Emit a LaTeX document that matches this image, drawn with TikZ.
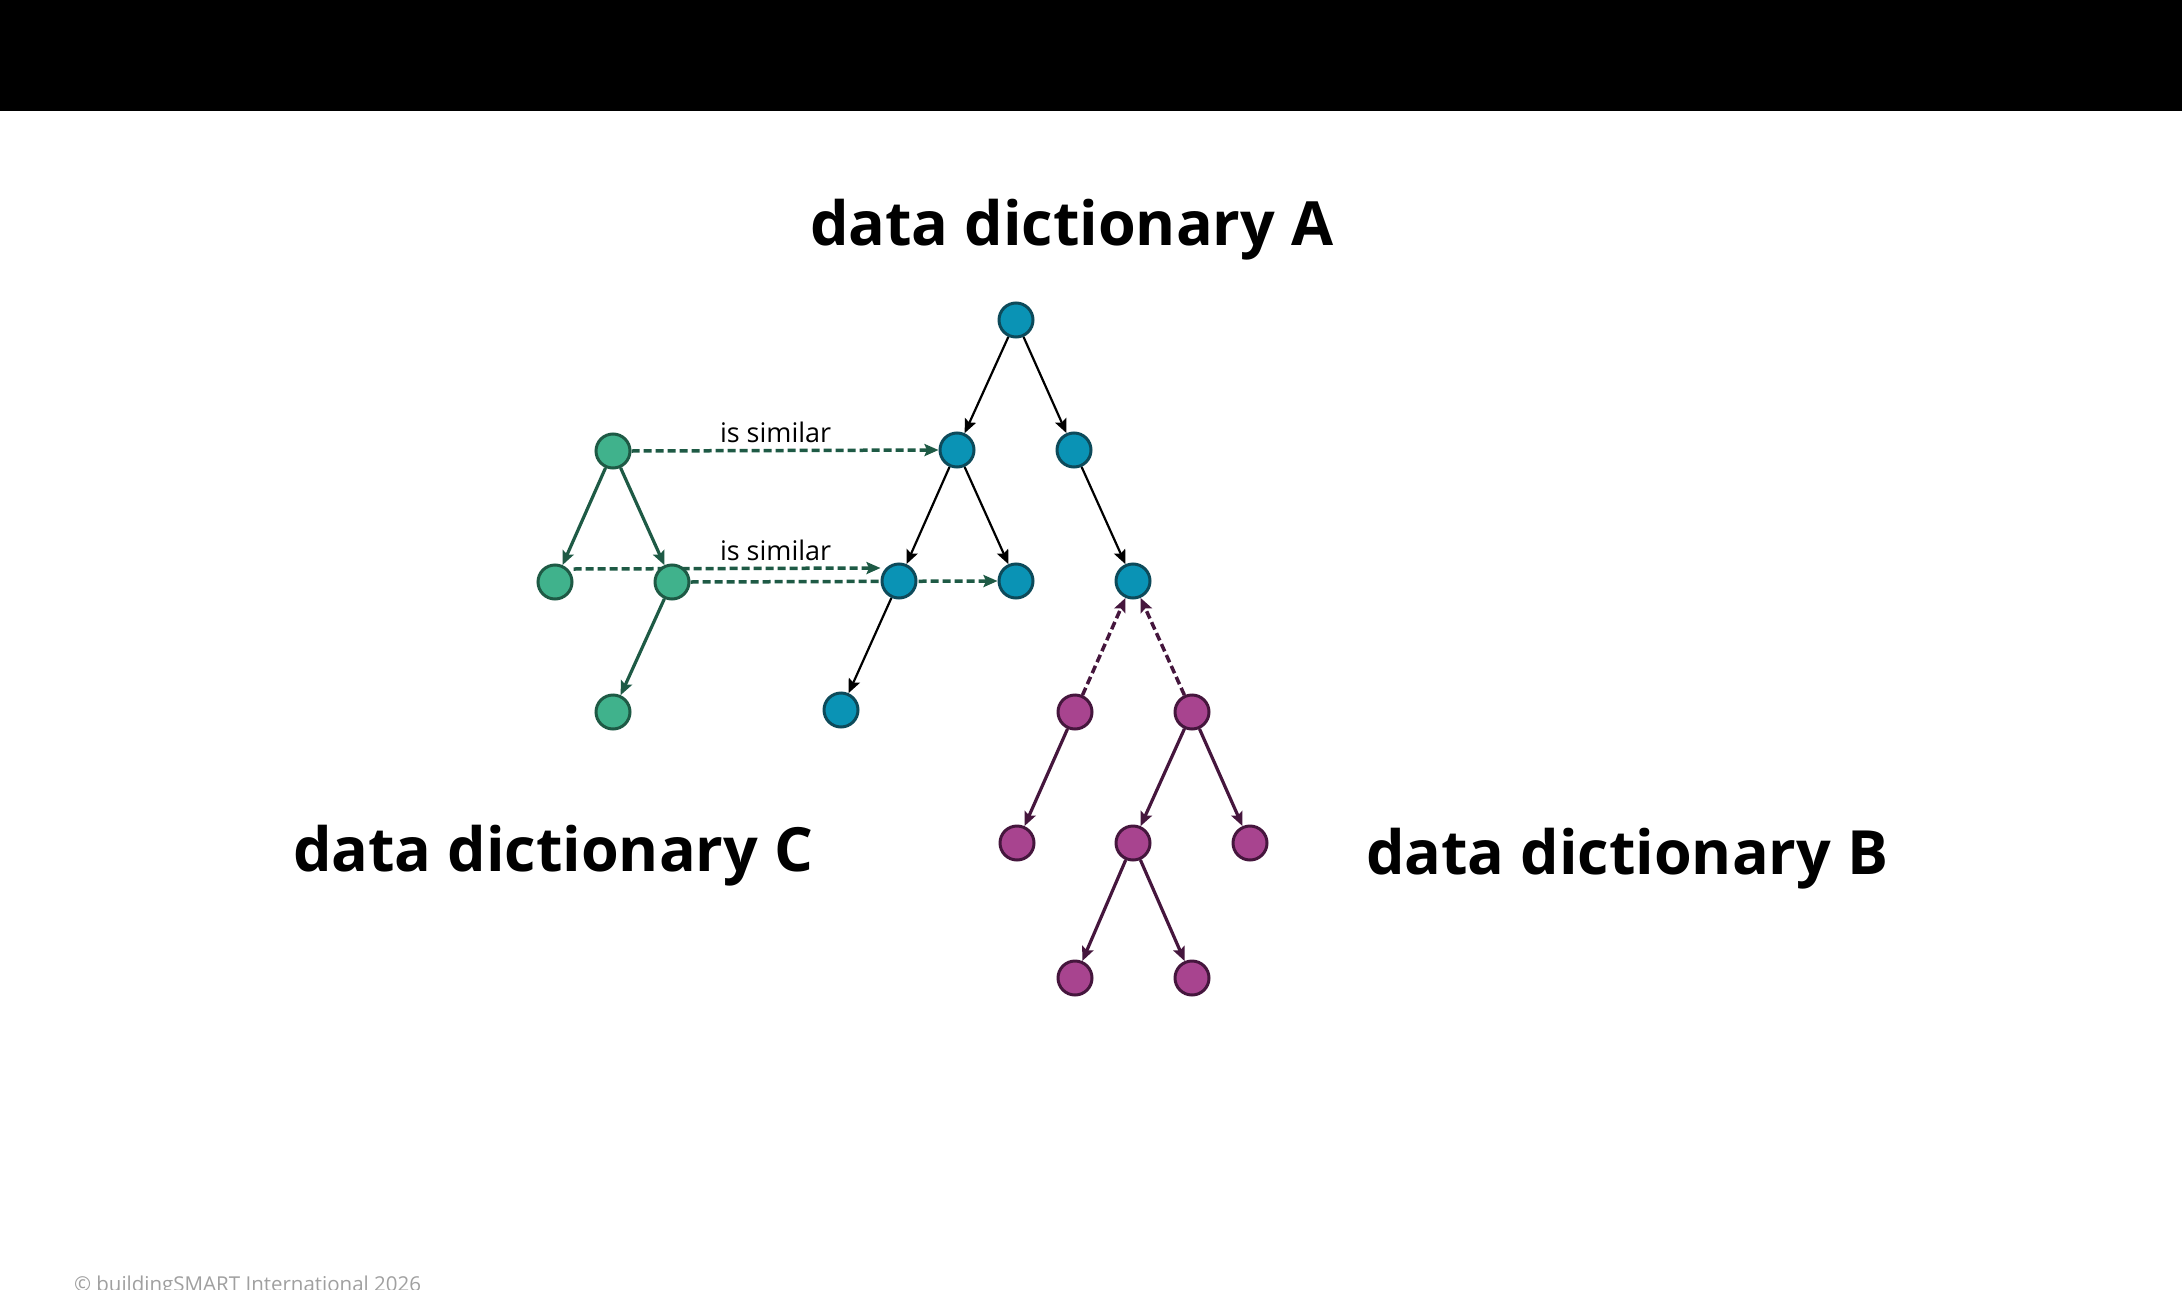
\documentclass[tikz,border=0pt]{standalone}
\usepackage{fontspec}
\setmainfont{Open Sans}
\usetikzlibrary{arrows.meta}
\pgfdeclarelayer{bg}
\pgfdeclarelayer{canvas}
\pgfsetlayers{canvas,bg,main}
\definecolor{bluefill}{HTML}{0A93B5}
\definecolor{blueedge}{HTML}{0D4A5A}
\definecolor{greenfill}{HTML}{40B28C}
\definecolor{greenedge}{HTML}{1E5A45}
\definecolor{magfill}{HTML}{A8448F}
\definecolor{magedge}{HTML}{45163D}
\definecolor{footgray}{HTML}{A0A0A0}
\begin{document}
\begin{tikzpicture}[x=1pt,y=-1pt,
  dnode/.style={circle, minimum size=34pt, inner sep=0pt, line width=3pt},
  bnode/.style={dnode, fill=bluefill, draw=blueedge},
  gnode/.style={dnode, fill=greenfill, draw=greenedge},
  mnode/.style={dnode, fill=magfill, draw=magedge},
  tip/.style={-{Stealth[length=14pt,width=12pt,inset=2.5pt]}},
  bedge/.style={tip, line width=2.2pt, black},
  gedge/.style={tip, line width=3.2pt, greenedge},
  medge/.style={tip, line width=3.2pt, magedge},
  simdash/.style={tip, line width=3.5pt, greenedge, dash pattern=on 8pt off 4pt},
  mdash/.style={tip, line width=3.5pt, magedge, dash pattern=on 8pt off 4pt},
  ttl/.style={inner sep=0pt, outer sep=0pt, anchor=base west, font=\fontsize{61}{74}\selectfont\bfseries},
  lbl/.style={inner sep=0pt, outer sep=0pt, anchor=base west, font=\fontsize{27}{32}\selectfont}
]
\useasboundingbox (0,0) rectangle (2182,1290);
\begin{pgfonlayer}{canvas}
  \fill[white] (0,0) rectangle (2182,1290);
  \fill[black] (0,0) rectangle (2182,111);
\end{pgfonlayer}

% titles
\node[ttl] (tA) at (810,245) {data dictionary A};
\node[ttl] (tC) at (293,871) {data dictionary C};
\node[ttl] (tB) at (1366,874) {data dictionary B};

% dictionary A (blue)
\node[bnode] (a0) at (1016,320) {};
\node[bnode] (a1) at (957,450) {};
\node[bnode] (a2) at (1074,450) {};
\node[bnode] (a3) at (899,581) {};
\node[bnode] (a4) at (1016,581) {};
\node[bnode] (a5) at (1133,581) {};
\node[bnode] (a6) at (841,710) {};

% dictionary C (green)
\node[gnode] (c0) at (613,451) {};
\node[gnode] (c1) at (555,582) {};
\node[gnode] (c2) at (672,582) {};
\node[gnode] (c3) at (613,712) {};

% dictionary B (magenta)
\node[mnode] (b0) at (1075,712) {};
\node[mnode] (b1) at (1192,712) {};
\node[mnode] (b2) at (1017,843) {};
\node[mnode] (b3) at (1133,843) {};
\node[mnode] (b4) at (1250,843) {};
\node[mnode] (b5) at (1075,978) {};
\node[mnode] (b6) at (1192,978) {};

% labels
\node[lbl] (s1) at (720,442) {is similar};
\node[lbl] (s2) at (720,560) {is similar};

\begin{pgfonlayer}{bg}
  \draw[bedge] (a0) -- (a1);
  \draw[bedge] (a0) -- (a2);
  \draw[bedge] (a1) -- (a3);
  \draw[bedge] (a1) -- (a4);
  \draw[bedge] (a2) -- (a5);
  \draw[bedge] (a3) -- (a6);

  \draw[gedge] (c0) -- (c1);
  \draw[gedge] (c0) -- (c2);
  \draw[gedge] (c2) -- (c3);

  \draw[medge] (b0) -- (b2);
  \draw[medge] (b1) -- (b3);
  \draw[medge] (b1) -- (b4);
  \draw[medge] (b3) -- (b5);
  \draw[medge] (b3) -- (b6);

  \draw[mdash] (b0) -- (a5);
  \draw[mdash] (b1) -- (a5);

  \draw[simdash] (c0.east) -- (a1.west);
  \draw[simdash] ([yshift=13pt]c1.east) -- ([yshift=13pt]a3.west);
  \draw[simdash] (c2.east) -- (a4.west);
\end{pgfonlayer}

% footer
\node[inner sep=0pt, outer sep=0pt, anchor=base west, text=footgray, font=\fontsize{20.5}{24}\selectfont] (foot) at (74,1291) {© buildingSMART International 2026};
\end{tikzpicture}
\end{document}
